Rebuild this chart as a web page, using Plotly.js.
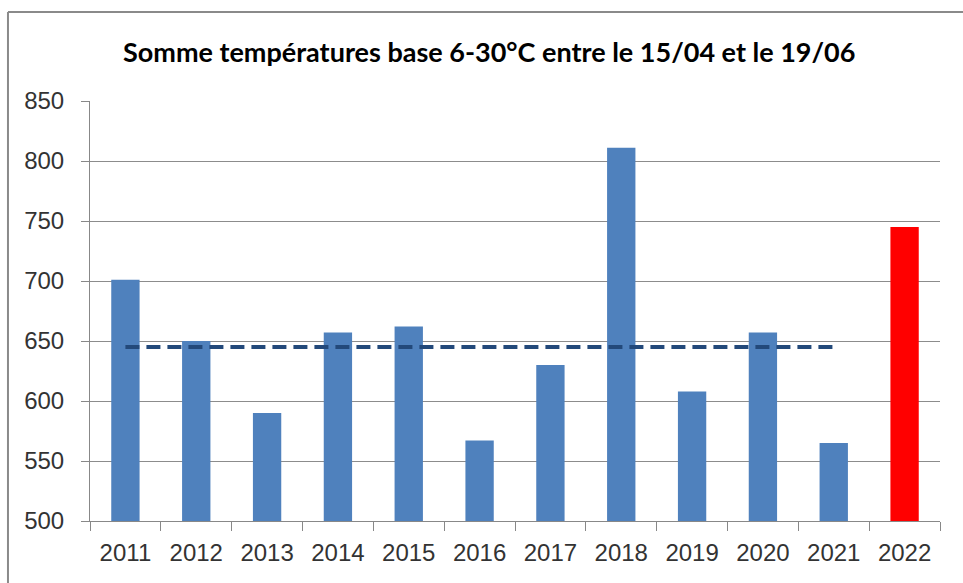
<!DOCTYPE html>
<html>
<head>
<meta charset="utf-8">
<script src="https://cdn.plot.ly/plotly-3.0.1.min.js"></script>
<style>html,body{margin:0;padding:0;background:#fff;}#chart{width:963px;height:583px;}</style>
</head>
<body>
<div id="chart"></div>
<script>
const years = ["2011","2012","2013","2014","2015","2016","2017","2018","2019","2020","2021","2022"];
const values = [701, 650, 590, 657, 662, 567, 630, 811, 608, 657, 565, 745];
const barColors = ["#4F81BD","#4F81BD","#4F81BD","#4F81BD","#4F81BD","#4F81BD","#4F81BD","#4F81BD","#4F81BD","#4F81BD","#4F81BD","#FF0000"];
const avgYears = ["2011","2012","2013","2014","2015","2016","2017","2018","2019","2020","2021"];
const avgValues = [645, 645, 645, 645, 645, 645, 645, 645, 645, 645, 645];
const yTicks = [500, 550, 600, 650, 700, 750, 800, 850];

const tickFont = {family: "Liberation Sans, Arial, sans-serif", size: 24, color: "#333333"};

const data = [
  {type: "bar", x: years, y: values, marker: {color: barColors, line: {width: 0}}, hoverinfo: "x+y", showlegend: false},
  {type: "scatter", mode: "lines", x: avgYears, y: avgValues,
   line: {color: "#23497A", width: 4, dash: "14px,7px"}, showlegend: false, hoverinfo: "y"}
];

const layout = {
  width: 963, height: 583,
  margin: {l: 90, r: 23, t: 101, b: 62},
  paper_bgcolor: "#ffffff", plot_bgcolor: "#ffffff",
  bargap: 0.6,
  title: {
    text: "Somme températures base 6-30°C entre le 15/04 et le 19/06",
    font: {family: "Lato, Liberation Sans, sans-serif", size: 27, color: "#000000", weight: "bold"},
    xref: "container", x: 0.508, xanchor: "center",
    yref: "container", y: 0.91, yanchor: "middle"
  },
  xaxis: {
    type: "category",
    showline: true, linecolor: "#888888", linewidth: 1,
    ticks: "outside", tickson: "boundaries", ticklen: 9, tickcolor: "#888888",
    showgrid: false,
    tickfont: tickFont,
    ticklabelstandoff: 10
  },
  yaxis: {
    range: [500, 850], tickvals: yTicks,
    showline: true, linecolor: "#888888", linewidth: 1,
    ticks: "outside", ticklen: 8, tickcolor: "#888888",
    showgrid: true, gridcolor: "#8c8c8c", gridwidth: 1,
    zeroline: false,
    tickfont: tickFont,
    ticklabelstandoff: 12
  },
  shapes: [
    {type: "line", xref: "paper", yref: "paper", x0: -0.0965, x1: -0.0965, y0: -0.3, y1: 1.2119,
     line: {color: "#8a8a8a", width: 2}},
    {type: "line", xref: "paper", yref: "paper", x0: -0.0965, x1: 1.1, y0: 1.2119, y1: 1.2119,
     line: {color: "#8a8a8a", width: 2}}
  ]
};

Plotly.newPlot("chart", data, layout, {displayModeBar: false, staticPlot: true});
</script>
</body>
</html>
